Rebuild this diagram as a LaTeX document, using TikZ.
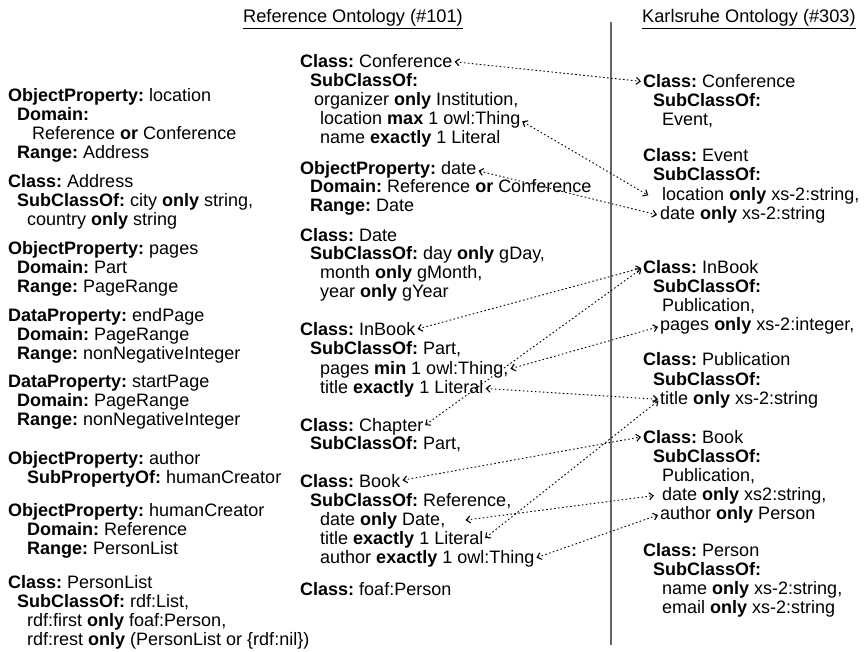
\documentclass[tikz,border=0pt]{standalone}
\usepackage{fontspec}
\setmainfont{Liberation Sans}
\usetikzlibrary{arrows.meta,positioning}
\frenchspacing

\begin{document}
\begin{tikzpicture}[
  x=1pt,y=-1pt,
  txt/.style={anchor=base west,inner sep=0pt,font=\fontsize{18}{19}\selectfont},
  head/.style={anchor=base west,inner sep=0pt,font=\fontsize{18.2}{19}\selectfont},
  blk/.style={anchor=north west,inner sep=0pt,align=left,font=\fontsize{18}{19}\selectfont},
  link/.style={{Straight Barb[length=4pt,width=7pt,line width=1.1pt]}-{Straight Barb[length=4pt,width=7pt,line width=1.1pt]},
    line width=0.9pt,dash pattern=on 1.6pt off 2.4pt,shorten <=2pt,shorten >=2pt}
]
  \useasboundingbox (0,0) rectangle (865,652);

  % headers and separator
  \node[head] (refhead) at (243,23) {\underline{Reference Ontology (\#101)}};
  \node[head] (karlhead) at (642,23) {\underline{Karlsruhe Ontology (\#303)}};
  \draw[gray!80!black,line width=1.2pt] (611,22) -- (611,645);

  % reference ontology, left column
  \node[blk] (oploc) at (8,88) {\textbf{ObjectProperty:} location\\
    \hspace*{9pt}\textbf{Domain:}\\
    \hspace*{24pt}Reference \textbf{or} Conference\\
    \hspace*{9pt}\textbf{Range:} Address};
  \node[blk] (claddr) at (8,174) {\textbf{Class:} Address\\
    \hspace*{9pt}\textbf{SubClassOf:} city \textbf{only} string,\\
    \hspace*{19pt}country \textbf{only} string};
  \node[blk] (oppages) at (8,241) {\textbf{ObjectProperty:} pages\\
    \hspace*{9pt}\textbf{Domain:} Part\\
    \hspace*{9pt}\textbf{Range:} PageRange};
  \node[blk] (dpend) at (8,308) {\textbf{DataProperty:} endPage\\
    \hspace*{9pt}\textbf{Domain:} PageRange\\
    \hspace*{9pt}\textbf{Range:} nonNegativeInteger};
  \node[blk] (dpstart) at (8,375) {\textbf{DataProperty:} startPage\\
    \hspace*{9pt}\textbf{Domain:} PageRange\\
    \hspace*{9pt}\textbf{Range:} nonNegativeInteger};
  \node[blk] (opauth) at (8,451) {\textbf{ObjectProperty:} author\\
    \hspace*{19pt}\textbf{SubPropertyOf:} humanCreator};
  \node[blk] (ophuman) at (8,503) {\textbf{ObjectProperty:} humanCreator\\
    \hspace*{19pt}\textbf{Domain:} Reference\\
    \hspace*{19pt}\textbf{Range:} PersonList};
  \node[blk] (clplist) at (8,575) {\textbf{Class:} PersonList\\
    \hspace*{9pt}\textbf{SubClassOf:} rdf:List,\\
    \hspace*{19pt}rdf:first \textbf{only} foaf:Person,\\
    \hspace*{19pt}rdf:rest \textbf{only} (PersonList or \{rdf:nil\})};

  % reference ontology, middle column
  \node[txt] (rconf) at (300,68) {\textbf{Class:} Conference};
  \node[txt] (rconfsub) at (310,87) {\textbf{SubClassOf:}};
  \node[txt] (rconforg) at (314,106) {organizer \textbf{only} Institution,};
  \node[txt] (rconfloc) at (320,125) {location \textbf{max} 1 owl:Thing};
  \node[txt] (rconfname) at (320,144) {name \textbf{exactly} 1 Literal};
  \node[txt] (rdate) at (300,175) {\textbf{ObjectProperty:} date};
  \node[txt] (rdatedom) at (310,193) {\textbf{Domain:} Reference \textbf{or} Conference};
  \node[txt] (rdaterng) at (310,212) {\textbf{Range:} Date};
  \node[txt] (rcdate) at (300,242) {\textbf{Class:} Date};
  \node[txt] (rcdatesub) at (310,260) {\textbf{SubClassOf:} day \textbf{only} gDay,};
  \node[txt] (rcdatemon) at (320,279) {month \textbf{only} gMonth,};
  \node[txt] (rcdateyr) at (320,298) {year \textbf{only} gYear};
  \node[txt] (rinb) at (300,336) {\textbf{Class:} InBook};
  \node[txt] (rinbsub) at (310,355) {\textbf{SubClassOf:} Part,};
  \node[txt] (rinbpages) at (320,374) {pages \textbf{min} 1 owl:Thing,};
  \node[txt] (rinbtitle) at (320,393) {title \textbf{exactly} 1 Literal};
  \node[txt] (rchap) at (300,431) {\textbf{Class:} Chapter};
  \node[txt] (rchapsub) at (310,449) {\textbf{SubClassOf:} Part,};
  \node[txt] (rbook) at (300,487) {\textbf{Class:} Book};
  \node[txt] (rbooksub) at (310,506) {\textbf{SubClassOf:} Reference,};
  \node[txt] (rbookdate) at (320,525) {date \textbf{only} Date,};
  \node[txt] (rbooktitle) at (320,544) {title \textbf{exactly} 1 Literal};
  \node[txt] (rbookauth) at (320,563) {author \textbf{exactly} 1 owl:Thing};
  \node[txt] (rperson) at (300,595) {\textbf{Class:} foaf:Person};

  % karlsruhe ontology, right column
  \node[txt] (kconf) at (643,88) {\textbf{Class:} Conference};
  \node[txt] (kconfsub) at (653,107) {\textbf{SubClassOf:}};
  \node[txt] (kconfev) at (662,126) {Event,};
  \node[txt] (kev) at (643,162) {\textbf{Class:} Event};
  \node[txt] (kevsub) at (653,181) {\textbf{SubClassOf:}};
  \node[txt] (kevloc) at (662,201) {location \textbf{only} xs-2:string,};
  \node[txt] (kevdate) at (660,220) {date \textbf{only} xs-2:string};
  \node[txt] (kinb) at (643,274) {\textbf{Class:} InBook};
  \node[txt] (kinbsub) at (653,293) {\textbf{SubClassOf:}};
  \node[txt] (kinbpub) at (662,312) {Publication,};
  \node[txt] (kinbpages) at (660,331) {pages \textbf{only} xs-2:integer,};
  \node[txt] (kpub) at (643,366) {\textbf{Class:} Publication};
  \node[txt] (kpubsub) at (653,385) {\textbf{SubClassOf:}};
  \node[txt] (kpubtitle) at (660,404) {title \textbf{only} xs-2:string};
  \node[txt] (kbook) at (643,443) {\textbf{Class:} Book};
  \node[txt] (kbooksub) at (653,462) {\textbf{SubClassOf:}};
  \node[txt] (kbookpub) at (662,481) {Publication,};
  \node[txt] (kbookdate) at (662,500) {date \textbf{only} xs2:string,};
  \node[txt] (kbookauth) at (660,519) {author \textbf{only} Person};
  \node[txt] (kperson) at (643,556) {\textbf{Class:} Person};
  \node[txt] (kpersonsub) at (653,575) {\textbf{SubClassOf:}};
  \node[txt] (kpersonname) at (662,594) {name \textbf{only} xs-2:string,};
  \node[txt] (kpersonmail) at (662,613) {email \textbf{only} xs-2:string};

  % correspondences
  \draw[link] (rconf.east) -- (kconf.west);
  \draw[link] (rconfloc.east) -- ([xshift=-12pt]kevloc.west);
  \draw[link] (rdate.east) -- ([xshift=-1pt]kevdate.west);
  \draw[link] (rinb.east) -- (kinb.west);
  \draw[link] (rchap.east) -- (kinb.west);
  \draw[link] (rinbpages.east) -- (kinbpages.west);
  \draw[link] (rinbtitle.east) -- (kpubtitle.west);
  \draw[link] (rbooktitle.east) -- (kpubtitle.west);
  \draw[link] (rbook.east) -- (kbook.west);
  \draw[link] ([xshift=18pt]rbookdate.east) -- ([xshift=-6pt]kbookdate.west);
  \draw[link] (rbookauth.east) -- (kbookauth.west);
\end{tikzpicture}
\end{document}
